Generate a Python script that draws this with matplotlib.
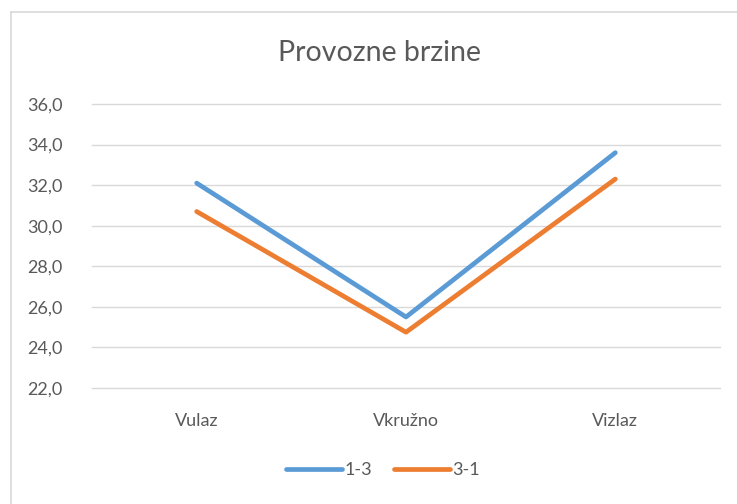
import matplotlib.pyplot as plt
import matplotlib.lines as mlines
from matplotlib.ticker import FuncFormatter

# podaci
kategorije = ["Vulaz", "Vkružno", "Vizlaz"]
serija_13 = [32.1, 25.5, 33.6]
serija_31 = [30.7, 24.75, 32.3]
y_ticks = [22, 24, 26, 28, 30, 32, 34, 36]

plt.rcParams['font.family'] = ['Lato', 'DejaVu Sans']
tekst = '#595959'

fig = plt.figure(figsize=(7.37, 5.04), dpi=100)
ax = fig.add_axes([92/737, 1 - 388/504, (720 - 92)/737, (388 - 104)/504])

x = range(len(kategorije))
ax.plot(x, serija_13, color='#5B9BD5', linewidth=3.4, solid_capstyle='round', label='1-3', zorder=3)
ax.plot(x, serija_31, color='#ED7D31', linewidth=3.4, solid_capstyle='round', label='3-1', zorder=3)

ax.set_xlim(-0.5, len(kategorije) - 0.5)
ax.set_ylim(22, 36)
ax.set_yticks(y_ticks)
ax.yaxis.set_major_formatter(FuncFormatter(lambda v, p: f"{v:.1f}".replace('.', ',')))
ax.set_xticks(list(x))
ax.set_xticklabels(kategorije)
ax.grid(axis='y', color='#D9D9D9', linewidth=1.0)
for gl in ax.get_ygridlines():
    gl.set_clip_on(False)
ax.set_axisbelow(True)
for s in ax.spines.values():
    s.set_visible(False)
ax.tick_params(axis='both', length=0, labelsize=13, colors=tekst)
ax.tick_params(axis='y', pad=21)
ax.tick_params(axis='x', pad=18)

fig.text(380/737, 1 - 53/504, "Provozne brzine", ha='center', va='center',
         fontsize=20.5, color=tekst)

# okvir grafikona (gornji i lijevi rub)
fig.add_artist(mlines.Line2D([11/737, 1], [1 - 11.5/504, 1 - 11.5/504], color='#D9D9D9', linewidth=1.2))
fig.add_artist(mlines.Line2D([11/737, 11/737], [0, 1 - 11.5/504], color='#D9D9D9', linewidth=1.2))

leg = fig.legend(loc='center', bbox_to_anchor=(383/737, 1 - 470/504), ncol=2, frameon=False,
                 fontsize=13, handlelength=3.1, handletextpad=0.15, columnspacing=1.2)
for t in leg.get_texts():
    t.set_color(tekst)

fig.savefig('out.png', dpi=100, facecolor='white')
